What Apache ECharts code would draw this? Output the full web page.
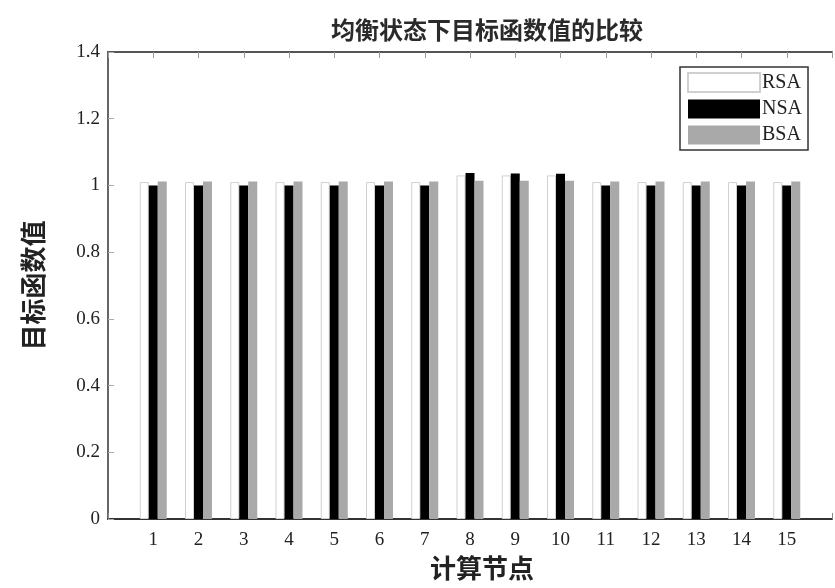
<!DOCTYPE html>
<html>
<head>
<meta charset="utf-8">
<script src="https://cdn.jsdelivr.net/npm/echarts@6/dist/echarts.min.js"></script>
<style>
  html, body { margin: 0; padding: 0; background: #fff; }
  #chart { width: 835px; height: 588px; }
</style>
</head>
<body>
<div id="chart"></div>
<script>
// Computation nodes 1..15
const nodes = [1, 2, 3, 4, 5, 6, 7, 8, 9, 10, 11, 12, 13, 14, 15];
// Objective function value at equilibrium for each algorithm
const rsaValues = [1.010, 1.010, 1.010, 1.010, 1.010, 1.010, 1.010, 1.030, 1.030, 1.030, 1.010, 1.010, 1.010, 1.010, 1.010];
const nsaValues = [1.000, 1.000, 1.000, 1.000, 1.000, 1.000, 1.000, 1.037, 1.036, 1.035, 1.000, 1.000, 1.000, 1.000, 1.000];
const bsaValues = [1.012, 1.012, 1.012, 1.012, 1.012, 1.012, 1.012, 1.014, 1.014, 1.014, 1.012, 1.012, 1.012, 1.012, 1.012];
const yTicks = [0, 0.2, 0.4, 0.6, 0.8, 1, 1.2, 1.4];

const serif = '"Liberation Serif", "DejaVu Serif", serif';
const cjk = '"Noto Sans CJK SC", sans-serif';

const pairs = vals => nodes.map((n, i) => [n, vals[i]]);

const chart = echarts.init(document.getElementById('chart'));
chart.setOption({
  backgroundColor: '#fff',
  animation: false,
  title: {
    text: '均衡状态下目标函数值的比较',
    left: 326,
    top: 13,
    textStyle: { fontFamily: cjk, fontSize: 24, fontWeight: 'bold', color: '#2a2a2a' }
  },
  legend: {
    orient: 'vertical',
    left: 680,
    top: 67,
    icon: 'rect',
    itemWidth: 72,
    itemHeight: 19,
    itemGap: 6,
    padding: [5, 6, 5, 7],
    borderColor: '#333',
    borderWidth: 1.5,
    borderRadius: 0,
    backgroundColor: '#fff',
    textStyle: { fontFamily: serif, fontSize: 20, color: '#222', padding: [0, 0, 0, -3] },
    data: ['RSA', 'NSA', 'BSA']
  },
  grid: { left: 108, top: 52, width: 730, height: 467, containLabel: false },
  xAxis: [{
    type: 'value',
    min: 0,
    max: 16,
    interval: 1,
    name: '计算节点',
    nameLocation: 'middle',
    nameGap: 36,
    nameTextStyle: { fontFamily: cjk, fontSize: 26, fontWeight: 'bold', color: '#222', padding: [0, 0, 0, 24] },
    axisLine: { lineStyle: { color: '#333', width: 2 } },
    axisTick: { inside: true, length: 6, lineStyle: { color: '#888' } },
    axisLabel: {
      fontFamily: serif, fontSize: 19, color: '#222', margin: 12,
      formatter: v => (v >= 1 && v <= 15 ? String(v) : '')
    },
    splitLine: { show: false }
  }, {
    type: 'value',
    position: 'top',
    min: 0,
    max: 16,
    interval: 1,
    axisLine: { lineStyle: { color: '#555', width: 2 } },
    axisTick: { inside: true, length: 6, lineStyle: { color: '#999' } },
    axisLabel: { show: false },
    splitLine: { show: false }
  }],
  yAxis: {
    type: 'value',
    min: 0,
    max: 1.4,
    interval: 0.2,
    name: '目标函数值',
    nameLocation: 'middle',
    nameRotate: 90,
    nameGap: 62,
    nameTextStyle: { fontFamily: cjk, fontSize: 26, fontWeight: 'bold', color: '#222' },
    axisLine: { show: true, lineStyle: { color: '#666', width: 2 } },
    axisTick: { show: true, inside: true, length: 6, lineStyle: { color: '#aaa' } },
    axisLabel: {
      fontFamily: serif, fontSize: 19, color: '#222', margin: 8,
      formatter: v => {
        const t = yTicks.find(x => Math.abs(x - v) < 1e-9);
        return t === undefined ? '' : String(t);
      }
    },
    splitLine: { show: false }
  },
  series: [
    {
      name: 'RSA', type: 'bar', xAxisIndex: 0, data: pairs(rsaValues),
      barWidth: 9, barGap: '0%',
      itemStyle: { color: '#fff', borderColor: '#d0d0d0', borderWidth: 1 }
    },
    {
      name: 'NSA', type: 'bar', xAxisIndex: 0, data: pairs(nsaValues),
      barWidth: 9, barGap: '0%',
      itemStyle: { color: '#000' }
    },
    {
      name: 'BSA', type: 'bar', xAxisIndex: 0, data: pairs(bsaValues),
      barWidth: 9, barGap: '0%',
      itemStyle: { color: '#a9a9a9' }
    }
  ]
});
</script>
</body>
</html>
